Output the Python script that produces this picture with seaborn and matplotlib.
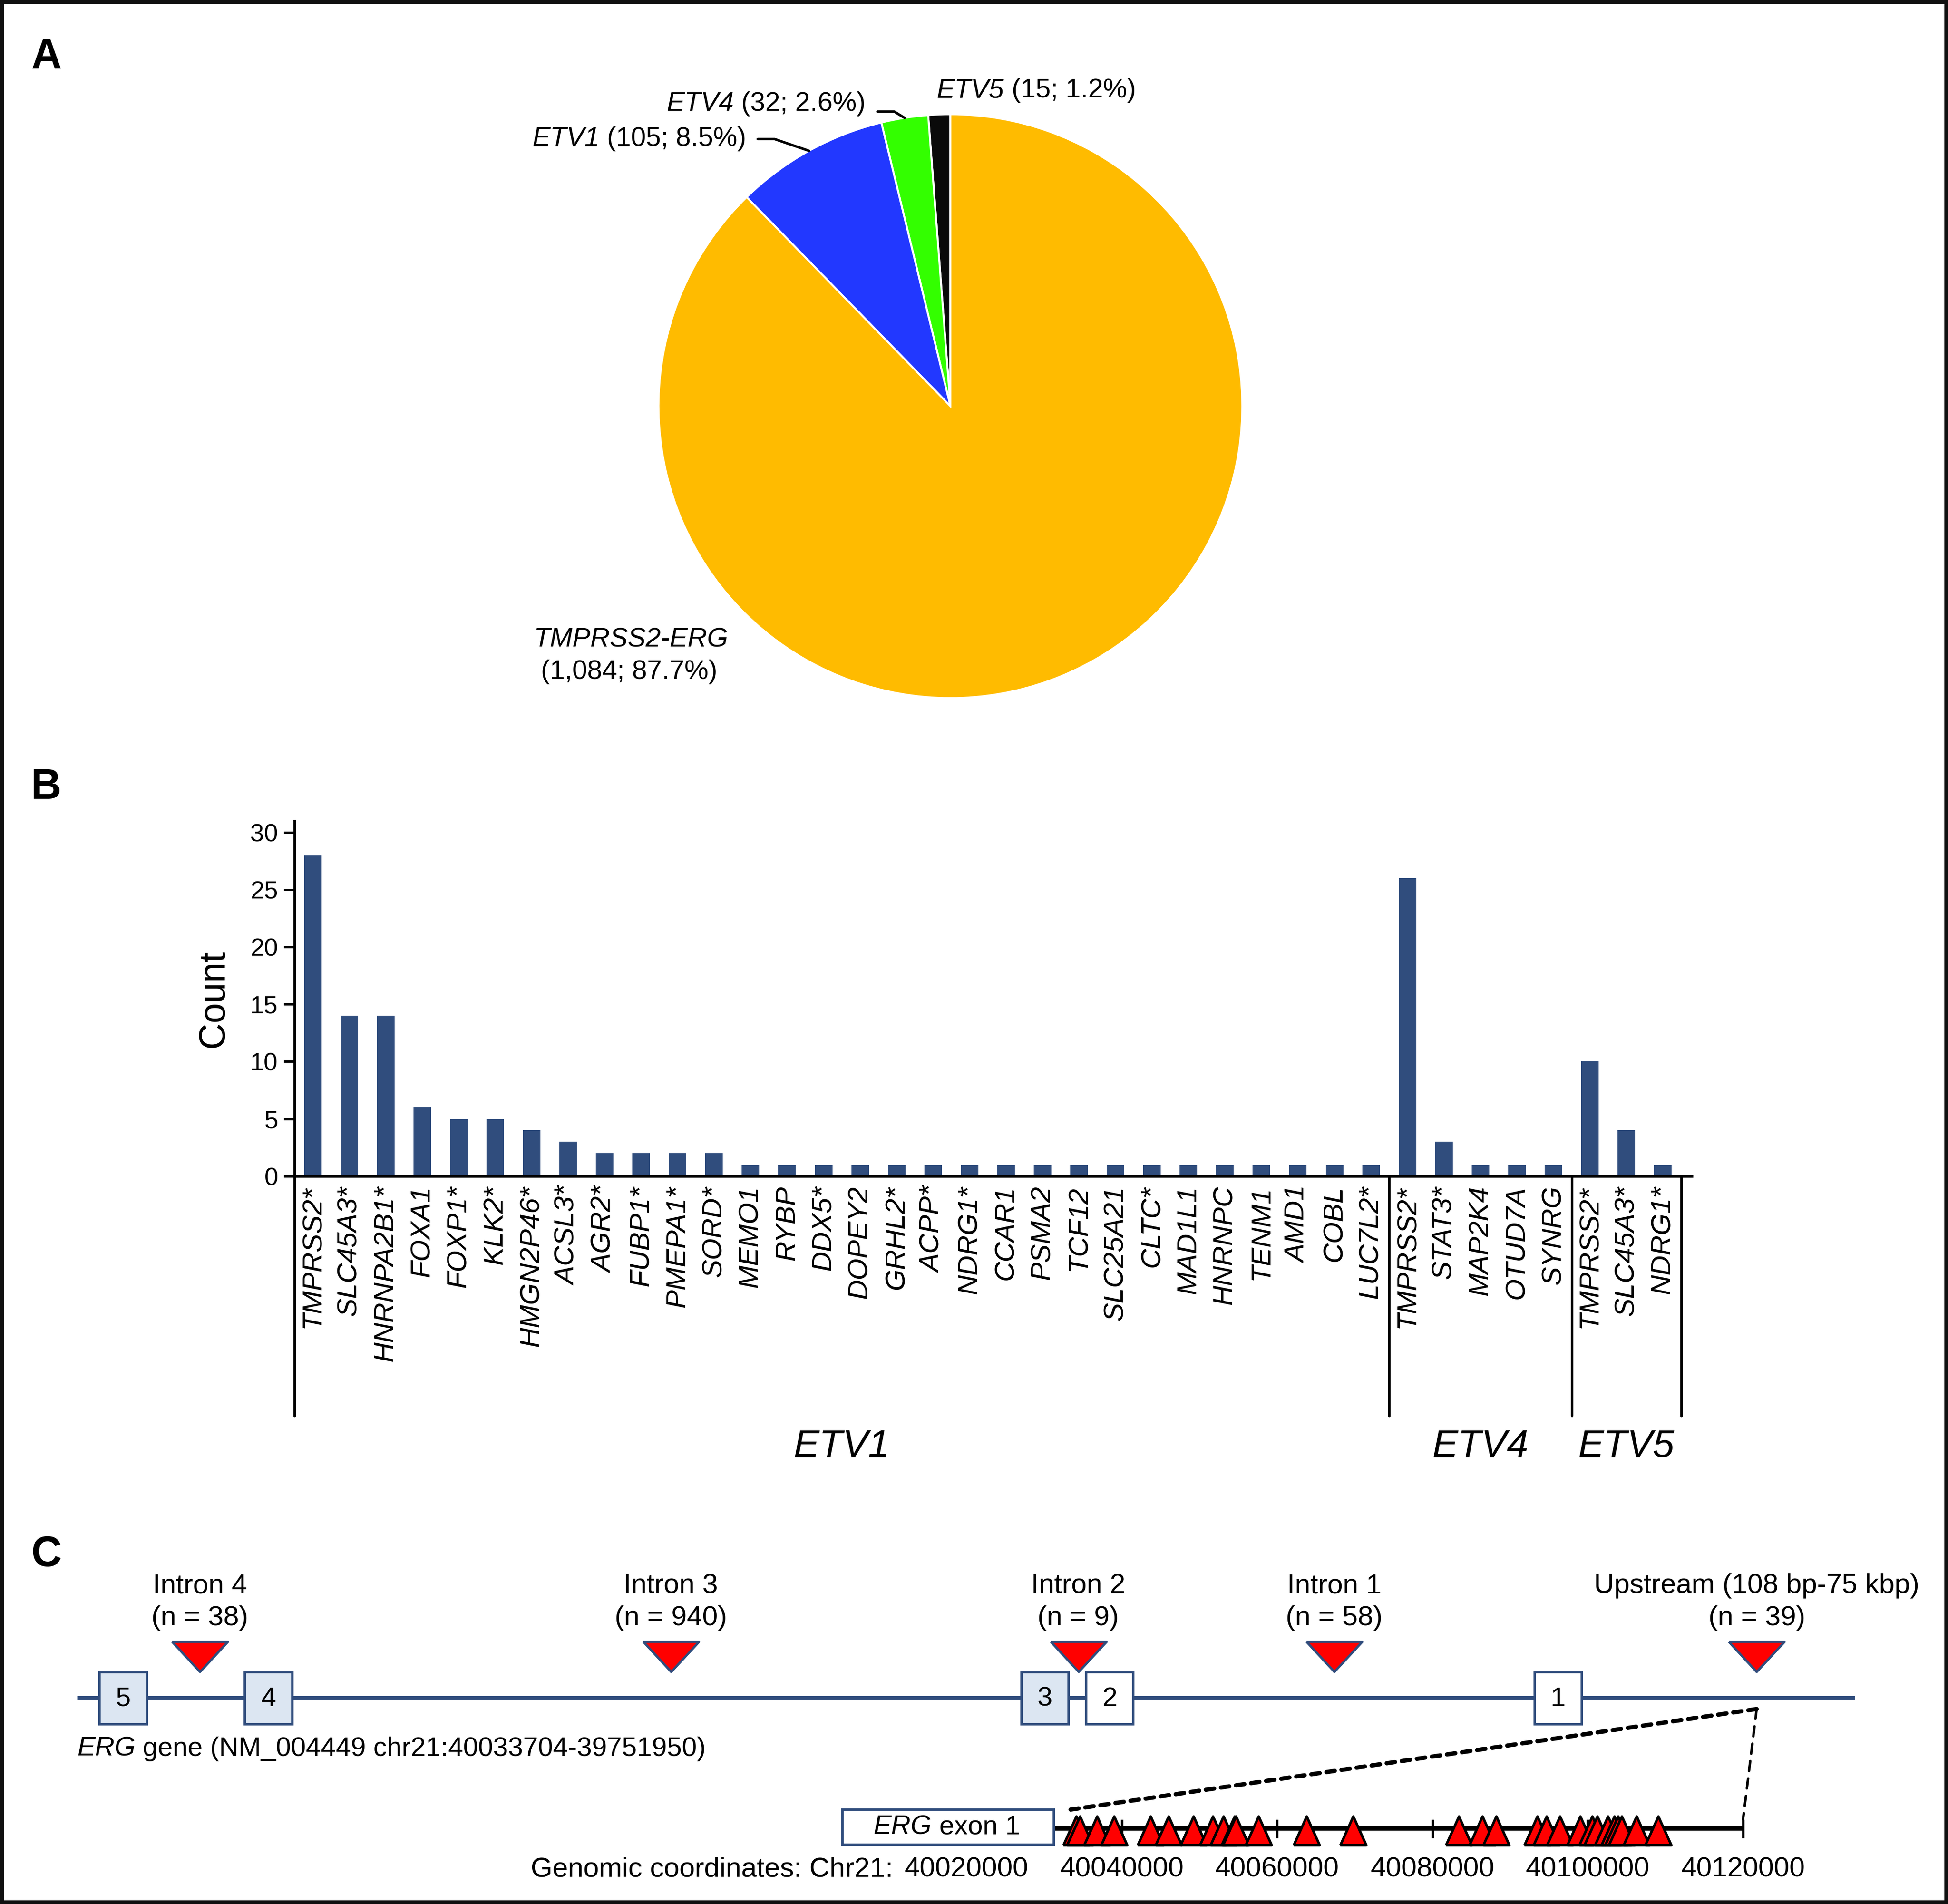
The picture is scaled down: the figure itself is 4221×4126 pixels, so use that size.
import numpy as np
import pandas as pd
import matplotlib
matplotlib.use('Agg')
import matplotlib.pyplot as plt
import matplotlib.transforms as mtransforms
from matplotlib.patches import Rectangle, ConnectionPatch
import seaborn as sns

# ---- panel A: fusion classes ----
fusion_names = ['ETV5', 'ETV4', 'ETV1', 'TMPRSS2-ERG']
fusion_counts = [15, 32, 105, 1084]
fusion_pcts = ['1.2%', '2.6%', '8.5%', '87.7%']
fusion_colors = ['#0A0A0A', '#33FF00', '#2238FF', '#FFBB00']

# ---- panel B: 5' partners per ETS gene ----
etv1_genes = ['TMPRSS2*', 'SLC45A3*', 'HNRNPA2B1*', 'FOXA1', 'FOXP1*', 'KLK2*', 'HMGN2P46*',
              'ACSL3*', 'AGR2*', 'FUBP1*', 'PMEPA1*', 'SORD*', 'MEMO1', 'RYBP', 'DDX5*',
              'DOPEY2', 'GRHL2*', 'ACPP*', 'NDRG1*', 'CCAR1', 'PSMA2', 'TCF12', 'SLC25A21',
              'CLTC*', 'MAD1L1', 'HNRNPC', 'TENM1', 'AMD1', 'COBL', 'LUC7L2*']
etv1_counts = [28, 14, 14, 6, 5, 5, 4, 3, 2, 2, 2, 2, 1, 1, 1, 1, 1, 1, 1, 1, 1, 1, 1, 1, 1, 1, 1, 1, 1, 1]
etv4_genes = ['TMPRSS2*', 'STAT3*', 'MAP2K4', 'OTUD7A', 'SYNRG']
etv4_counts = [26, 3, 1, 1, 1]
etv5_genes = ['TMPRSS2*', 'SLC45A3*', 'NDRG1*']
etv5_counts = [10, 4, 1]
group_names = ['ETV1', 'ETV4', 'ETV5']

# ---- panel C: ERG breakpoints ----
exon_ids = ['5', '4', '3', '2', '1']
exon_x = [99, 216, 841, 893, 1254]          # schematic units
exon_fill = ['#DCE6F2', '#DCE6F2', '#DCE6F2', 'white', 'white']
break_x = [161, 540, 868, 1074, 1414]
break_names = ['Intron 4', 'Intron 3', 'Intron 2', 'Intron 1', 'Upstream (108 bp-75 kbp)']
break_n = [38, 940, 9, 58, 39]

upstream_sites = [40034100, 40034600, 40036800, 40039000, 40043700, 40046000, 40049200,
                  40051700, 40053100, 40054500, 40054700, 40057600, 40063800, 40069800,
                  40083400, 40086400, 40088200, 40093500, 40094700, 40096400, 40099000,
                  40100600, 40101200, 40102600, 40103400, 40103900, 40104400, 40106300,
                  40109100]
coord_ticks = [40020000, 40040000, 40060000, 40080000, 40100000, 40120000]
exon1_start, exon1_end = 40004000, 40031200

navy = '#304D7D'

sns.set_style('white')
plt.rcParams['font.family'] = ['Liberation Sans', 'DejaVu Sans']
plt.rcParams['text.color'] = 'black'
plt.rcParams['axes.labelcolor'] = 'black'
plt.rcParams['xtick.color'] = 'black'
plt.rcParams['ytick.color'] = 'black'

W, H = 1568, 1533
fig = plt.figure(figsize=(4221 / 300, 4126 / 300), dpi=300)

# canvas for letters and the gene schematic
ax_bg = fig.add_axes([0, 0, 1, 1])
ax_bg.set_xlim(0, W)
ax_bg.set_ylim(H, 0)
ax_bg.axis('off')


def mixed(ax, x, y, ital, rest, ha='left', size=14):
    if ha == 'left':
        a = ax.text(x, y, ital, style='italic', ha='left', va='center', fontsize=size)
        ax.annotate(rest, xy=(1, 0), xycoords=a, ha='left', va='bottom', fontsize=size)
    else:
        b = ax.text(x, y, rest, ha='right', va='center', fontsize=size)
        ax.annotate(ital, xy=(0, 0), xycoords=b, ha='right', va='bottom', style='italic', fontsize=size)


for letter, yb in zip(['A', 'B', 'C'], [55, 643, 1261]):
    ax_bg.text(25, yb, letter, fontsize=22, weight='bold', ha='left', va='baseline')

# ---- A: pie ----
cx, cy, r = 765, 327, 235
ax_pie = fig.add_axes([(cx - r) / W, 1 - (cy + r) / H, 2 * r / W, 2 * r / H])
wedges, _ = ax_pie.pie(fusion_counts, colors=fusion_colors, startangle=90, counterclock=True,
                       wedgeprops=dict(edgecolor='white', linewidth=1))
ax_pie.set_xlim(-1, 1)
ax_pie.set_ylim(-1, 1)
ax_pie.set_aspect('equal')
ax_pie.axis('off')

# leader lines for ETV1 and ETV4
leaders = {'ETV1': (-0.66, 0.915), 'ETV4': (-0.25, 1.009)}
for w, name in zip(wedges, fusion_names):
    if name in leaders:
        mid = np.deg2rad((w.theta1 + w.theta2) / 2)
        lx, ly = leaders[name]
        ax_pie.plot([lx, lx + 0.058, np.cos(mid)], [ly, ly, np.sin(mid)],
                    color='black', lw=1.3, clip_on=False)

for name, cnt, pct in zip(fusion_names, fusion_counts, fusion_pcts):
    rest = ' ({:,}; {})'.format(cnt, pct)
    if name == 'ETV1':
        mixed(ax_pie, -0.70, 0.915, name, rest, ha='right')
    elif name == 'ETV4':
        mixed(ax_pie, -0.29, 1.036, name, rest, ha='right')
    elif name == 'ETV5':
        mixed(ax_pie, -0.047, 1.081, name, rest, ha='left')
    else:
        ax_pie.text(-1.094, -0.80, name, style='italic', ha='center', va='center', fontsize=14)
        ax_pie.text(-1.10, -0.911, rest.strip(), ha='center', va='center', fontsize=14)

# ---- B: bar chart ----
genes = etv1_genes + etv4_genes + etv5_genes
counts = etv1_counts + etv4_counts + etv5_counts
sizes = [len(etv1_genes), len(etv4_genes), len(etv5_genes)]
df = pd.DataFrame({'pos': np.arange(len(genes)), 'count': counts})

ax_b = fig.add_axes([237 / W, 1 - 947 / H, (1362 - 237) / W, (947 - 661) / H])
ax_b.patch.set_alpha(0)
sns.barplot(data=df, x='pos', y='count', color=navy, saturation=1, width=0.48,
            linewidth=0, ax=ax_b)
ax_b.set_xlim(-0.5, 37.8)
ax_b.set_ylim(0, 31)
ax_b.set_yticks(range(0, 31, 5))
ax_b.set_xticks(np.arange(len(genes)))
ax_b.set_xticklabels(genes, rotation=90, style='italic', fontsize=14.5, va='top')
ax_b.tick_params(axis='x', length=0, pad=5)
ax_b.tick_params(axis='y', length=5.5, width=1.2, labelsize=13, pad=3, left=True)
for s in ['top', 'right']:
    ax_b.spines[s].set_visible(False)
for s in ['left', 'bottom']:
    ax_b.spines[s].set_linewidth(1.3)
    ax_b.spines[s].set_color('black')
ax_b.set_xlabel('')
ax_b.set_ylabel('Count', fontsize=19, labelpad=10)

bt = mtransforms.blended_transform_factory(ax_b.transData, ax_b.transAxes)
edges = np.concatenate([[0], np.cumsum(sizes)]) - 0.5
for x in edges:
    ax_b.plot([x, x], [0, -0.675], transform=bt, color='black', lw=1.3, clip_on=False)
for name, lo, hi in zip(group_names, edges[:-1], edges[1:]):
    ax_b.text((lo + hi) / 2, -0.762, name, transform=bt, style='italic', fontsize=20,
              ha='center', va='center')

# ---- C: ERG gene schematic ----
ax_bg.hlines(1367, 62, 1493, color=navy, lw=2.2, zorder=1)
ax_bg.bar(exon_x, 42, bottom=1346, width=38, color=exon_fill, edgecolor=navy,
          linewidth=1.3, zorder=2)
for x, e in zip(exon_x, exon_ids):
    ax_bg.text(x, 1368, e, ha='center', va='center', fontsize=14, zorder=3)

down_tri = [(-1, 0.54), (1, 0.54), (0, -0.54), (-1, 0.54)]
ax_bg.plot(break_x, [1334] * len(break_x), ls='none', marker=down_tri, ms=29,
           mfc='#FF0000', mec=navy, mew=1.2, zorder=3)
for x, name, n in zip(break_x, break_names, break_n):
    ax_bg.text(x, 1277, name, ha='center', va='center', fontsize=14.5)
    ax_bg.text(x, 1303, '(n = {})'.format(n), ha='center', va='center', fontsize=14.5)
mixed(ax_bg, 62, 1408, 'ERG', ' gene (NM_004449 chr21:40033704-39751950)', size=14)

# zoomed upstream region on genomic coordinates
px_bp = 20000 / 125.0
ax_g = fig.add_axes([660 / W, 1 - 1520 / H, 760 / W, 80 / H])
ax_g.set_xlim(40020000 + (660 - 778) * px_bp, 40020000 + (1420 - 778) * px_bp)
ax_g.set_ylim(1520, 1440)
ax_g.axis('off')
ax_g.hlines(1472, exon1_end, coord_ticks[-1], color='black', lw=2.2, zorder=1)
ax_g.vlines(coord_ticks[1:], 1465, 1480, color='black', lw=1.3, zorder=1)
ax_g.add_patch(Rectangle((exon1_start, 1457), exon1_end - exon1_start, 28, facecolor='white',
                         edgecolor=navy, lw=1.3, zorder=2))
mixed(ax_g, 40008000, 1471, 'ERG', ' exon 1', size=14)
up_tri = [(-0.45, -0.5), (0.45, -0.5), (0, 0.5), (-0.45, -0.5)]
ax_g.plot(upstream_sites, [1474] * len(upstream_sites), ls='none', marker=up_tri, ms=15,
          mfc='#FF0000', mec='black', mew=1.3, zorder=3)
for t in coord_ticks:
    ax_g.text(t, 1505, str(t), ha='center', va='center', fontsize=14.5)
ax_g.text(40010500, 1505, 'Genomic coordinates: Chr21:', ha='right', va='center', fontsize=14.5)

# connectors from the upstream breakpoint to the zoomed track
fig.add_artist(ConnectionPatch(xyA=(break_x[-1], 1376), coordsA=ax_bg.transData,
                               xyB=(40033400, 1457), coordsB=ax_g.transData,
                               color='black', lw=2.2, ls=(0, (2, 1.6))))
fig.add_artist(ConnectionPatch(xyA=(break_x[-1], 1376), coordsA=ax_bg.transData,
                               xyB=(coord_ticks[-1], 1465), coordsB=ax_g.transData,
                               color='black', lw=1.3, ls=(0, (4, 3))))

fig.add_artist(Rectangle((0, 0), 1, 1, transform=fig.transFigure, fill=False,
                         lw=4, ec='#111111'))

fig.savefig('out.png', dpi=300)
